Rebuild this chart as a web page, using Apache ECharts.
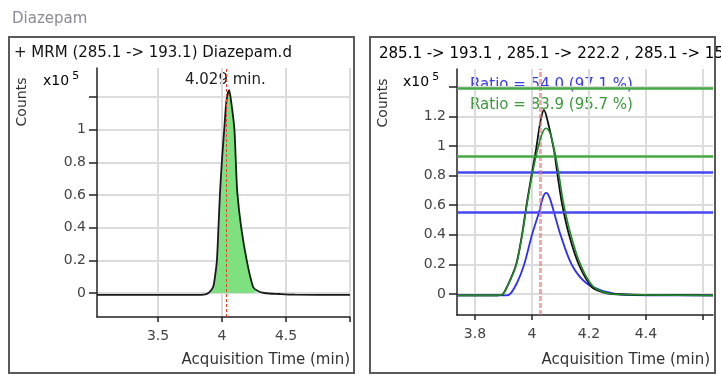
<!DOCTYPE html>
<html>
<head>
<meta charset="utf-8">
<script src="https://cdn.jsdelivr.net/npm/echarts@6/dist/echarts.min.js"></script>
<style>
  html, body { margin: 0; padding: 0; background: #fff; }
  #chart { width: 721px; height: 376px; }
</style>
</head>
<body>
<div id="chart"></div>
<script>
// quantifier trace (left panel), counts x10^5
const quantTime = [3.023, 3.8, 3.87, 3.9, 3.93, 3.945, 3.96, 3.972, 3.984, 4.0, 4.018, 4.035, 4.055, 4.07, 4.096, 4.108, 4.12, 4.15, 4.193, 4.243, 4.28, 4.33, 4.45, 4.57, 5.0];
const quantCounts = [-0.012, -0.012, -0.008, 0.004, 0.037, 0.1, 0.2, 0.4, 0.61, 0.82, 1.01, 1.18, 1.243, 1.18, 1.01, 0.8, 0.61, 0.4, 0.2, 0.037, 0.012, 0.0, -0.006, -0.01, -0.012];

// overlay traces (right panel)
const blackTime = [3.737, 3.87, 3.895, 3.912, 3.944, 3.965, 3.982, 4.0, 4.014, 4.03, 4.042, 4.055, 4.077, 4.09, 4.105, 4.13, 4.165, 4.21, 4.25, 4.28, 4.4, 4.635];
const blackCounts = [-0.01, -0.01, -0.005, 0.047, 0.196, 0.4, 0.615, 0.82, 0.974, 1.17, 1.244, 1.17, 0.974, 0.8, 0.615, 0.4, 0.196, 0.047, 0.01, 0.0, -0.006, -0.01];
const greenTime = [3.737, 3.87, 3.895, 3.912, 3.944, 3.965, 3.982, 4.0, 4.02, 4.037, 4.05, 4.063, 4.08, 4.095, 4.11, 4.135, 4.17, 4.215, 4.28, 4.4, 4.635];
const greenCounts = [-0.01, -0.01, -0.005, 0.045, 0.19, 0.39, 0.6, 0.8, 0.98, 1.09, 1.12, 1.09, 0.96, 0.8, 0.62, 0.41, 0.2, 0.05, 0.0, -0.006, -0.01];
const blueTime = [3.737, 3.9, 3.92, 3.947, 3.972, 4.0, 4.025, 4.038, 4.05, 4.062, 4.077, 4.1, 4.14, 4.19, 4.25, 4.33, 4.635];
const blueCounts = [-0.01, -0.01, -0.005, 0.074, 0.196, 0.4, 0.554, 0.65, 0.683, 0.65, 0.554, 0.4, 0.196, 0.074, 0.02, -0.005, -0.01];

const retentionTime = 4.029;
const greenLimits = [1.386, 0.926];
const blueLimits = [0.825, 0.554];

// ticks
const leftXTicks = [3.5, 4, 4.5, 5];
const leftXLabels = [3.5, 4, 4.5];
const leftYTicks = [0, 0.2, 0.4, 0.6, 0.8, 1, 1.2];
const leftYLabels = [0, 0.2, 0.4, 0.6, 0.8, 1];
const rightXTicks = [3.8, 4, 4.2, 4.4, 4.6];
const rightXLabels = [3.8, 4, 4.2, 4.4];
const rightYTicks = [0, 0.2, 0.4, 0.6, 0.8, 1, 1.2, 1.4];
const rightYLabels = [0, 0.2, 0.4, 0.6, 0.8, 1, 1.2];

const FONT = "DejaVu Sans";
const pairs = (xs, ys) => xs.map((x, i) => [x, ys[i]]);
const fillPart = pairs(quantTime, quantCounts).filter((p) => p[0] >= 3.9 && p[0] <= 4.3);

const xAxisBase = (min, max, ticks, labels) => ({
  type: "value",
  min: min,
  max: max,
  axisLine: { onZero: false, lineStyle: { color: "#222", width: 1.5 } },
  axisTick: { show: true, customValues: ticks, length: 5, lineStyle: { color: "#222", width: 1.5 } },
  axisLabel: { customValues: labels, margin: 12, color: "#444", fontSize: 14, fontFamily: FONT },
  splitLine: { show: true, lineStyle: { color: "#dcdcdc", width: 2 } },
});
const yAxisBase = (min, max, ticks, labels) => ({
  type: "value",
  min: min,
  max: max,
  axisLine: { show: true, onZero: false, lineStyle: { color: "#222", width: 1.5 } },
  axisTick: { show: true, customValues: ticks, length: 8, lineStyle: { color: "#222", width: 1.5 } },
  axisLabel: { customValues: labels, margin: 11, color: "#444", fontSize: 14, fontFamily: FONT },
  splitLine: { show: true, lineStyle: { color: "#dcdcdc", width: 2 } },
});

const txt = (x, y, text, extra) => ({
  type: "text",
  x: x,
  y: y,
  silent: true,
  style: Object.assign({ text: text, font: "15px '" + FONT + "'", fill: "#222", align: "left", verticalAlign: "middle", textAlign: "left", textVerticalAlign: "middle" }, extra || {}),
});
const sup = (x, y) => ({
  type: "text",
  x: x,
  y: y,
  silent: true,
  style: {
    text: "{a|x10}{b| }{c|5}",
    rich: {
      a: { fontSize: 14, fontFamily: FONT, color: "#333" },
      b: { fontSize: 10, fontFamily: FONT },
      c: { fontSize: 11, fontFamily: FONT, color: "#333", padding: [0, 0, 10, 0] },
    },
    verticalAlign: "middle",
    textVerticalAlign: "middle",
  },
});

const trace = (xi, data, color, width, z) => ({
  type: "line",
  xAxisIndex: xi,
  yAxisIndex: xi,
  data: data,
  showSymbol: false,
  smooth: 0.3,
  lineStyle: { color: color, width: width },
  z: z,
});

const option = {
  animation: false,
  grid: [
    { left: 97, top: 68, width: 253, height: 249 },
    { left: 457, top: 69, width: 256, height: 246 },
  ],
  xAxis: [
    Object.assign(xAxisBase(3.023, 5.0, leftXTicks, leftXLabels), { gridIndex: 0 }),
    Object.assign(xAxisBase(3.737, 4.635, rightXTicks, rightXLabels), { gridIndex: 1 }),
  ],
  yAxis: [
    Object.assign(yAxisBase(-0.147, 1.378, leftYTicks, leftYLabels), { gridIndex: 0 }),
    Object.assign(yAxisBase(-0.142, 1.521, rightYTicks, rightYLabels), { gridIndex: 1 }),
  ],
  series: [
    Object.assign(trace(0, fillPart, "#7fe07f", 0, 1), {
      areaStyle: { color: "#7fe07f", opacity: 1 },
    }),
    Object.assign(trace(0, pairs(quantTime, quantCounts), "#1a1a1a", 1.8, 3), {
      markLine: {
        silent: true,
        symbol: "none",
        label: { show: false },
        lineStyle: { color: "#e8402a", width: 1, type: [3, 2] },
        data: [{ xAxis: retentionTime }],
      },
    }),
    Object.assign(trace(1, pairs(blueTime, blueCounts), "#2f2ff5", 1.8, 3), {
      markLine: {
        silent: true,
        symbol: "none",
        label: { show: false },
        lineStyle: { color: "#4646f5", width: 2.5, type: "solid" },
        data: blueLimits.map((v) => ({ yAxis: v })),
      },
    }),
    Object.assign(trace(1, pairs(blackTime, blackCounts), "#111", 1.8, 4), {
      markLine: {
        silent: true,
        symbol: "none",
        label: { show: false },
        lineStyle: { color: "rgba(240,110,110,0.6)", width: 3, type: [5, 2] },
        data: [{ xAxis: retentionTime }],
      },
    }),
    Object.assign(trace(1, pairs(greenTime, greenCounts), "#1f8a2a", 1.6, 5), {
      markLine: {
        silent: true,
        symbol: "none",
        label: { show: false },
        lineStyle: { color: "#45a845", width: 2.5, type: "solid" },
        data: greenLimits.map((v) => ({ yAxis: v })),
      },
    }),
  ],
  graphic: [
    { type: "rect", silent: true, shape: { x: 9, y: 37, width: 345, height: 336 }, style: { fill: "none", stroke: "#5a5a5a", lineWidth: 2 }, z: 0 },
    { type: "rect", silent: true, shape: { x: 370, y: 37, width: 345, height: 336 }, style: { fill: "none", stroke: "#5a5a5a", lineWidth: 2 }, z: 0 },
    txt(12, 19, "Diazepam", { fill: "#8a8a96" }),
    txt(14, 53, "+ MRM (285.1 -> 193.1) Diazepam.d", { fill: "#111" }),
    {
      type: "text",
      x: 379,
      y: 54,
      silent: true,
      style: {
        text: "{k|285.1 -> 193.1}{b| , 285.1 -> 222.2}{g| , 285.1 -> 154.1}",
        rich: {
          k: { fontSize: 15, fontFamily: FONT, color: "#111" },
          b: { fontSize: 15, fontFamily: FONT, color: "#3434ee" },
          g: { fontSize: 15, fontFamily: FONT, color: "#2e9a2e" },
        },
        verticalAlign: "middle",
        textVerticalAlign: "middle",
      },
    },
    txt(22, 102, "Counts", { font: "14px '" + FONT + "'", fill: "#333", align: "center", textAlign: "center" }),
    txt(383, 103, "Counts", { font: "14px '" + FONT + "'", fill: "#333", align: "center", textAlign: "center" }),
    sup(43, 81),
    sup(403, 82),
    txt(185, 80, "4.029 min.", { fill: "#222" }),
    txt(470, 85, "Ratio = 54.0 (97.1 %)", { fill: "#3a3af0" }),
    txt(470, 105, "Ratio = 83.9 (95.7 %)", { fill: "#3a9a3a" }),
    txt(350, 360, "Acquisition Time (min)", { fill: "#333", align: "right", textAlign: "right" }),
    txt(710, 360, "Acquisition Time (min)", { fill: "#333", align: "right", textAlign: "right" }),
  ],
};

// rotate the two "Counts" labels
option.graphic[5].rotation = Math.PI / 2;
option.graphic[6].rotation = Math.PI / 2;

const myChart = echarts.init(document.getElementById("chart"), null, { renderer: "canvas" });
myChart.setOption(option);
</script>
</body>
</html>
